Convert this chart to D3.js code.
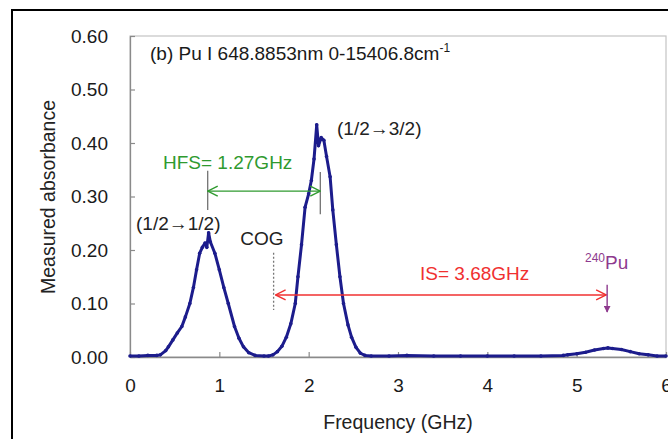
<!DOCTYPE html>
<html>
<head>
<meta charset="utf-8">
<script src="https://cdn.jsdelivr.net/npm/d3@7"></script>
<style>
  body { margin: 0; background: #fff; }
  svg text { font-family: "Liberation Sans", Arial, sans-serif; }
</style>
</head>
<body>
<div id="chart"></div>
<script>
// Readings taken off the measured spectrum (GHz, absorbance)
var freq = [0.00, 0.10, 0.20, 0.30, 0.34, 0.40, 0.43, 0.48, 0.53, 0.58,
    0.62, 0.67, 0.71, 0.745, 0.78, 0.81, 0.84, 0.86, 0.88, 0.90,
    0.95, 1.00, 1.05, 1.10, 1.17, 1.22, 1.27, 1.33, 1.40, 1.50,
    1.55, 1.60, 1.65, 1.70, 1.75, 1.80, 1.85, 1.88, 1.92, 1.96,
    2.00, 2.03, 2.06, 2.09, 2.11, 2.14, 2.17, 2.20, 2.24, 2.27,
    2.31, 2.35, 2.39, 2.44, 2.48, 2.53, 2.58, 2.63, 2.70, 2.90,
    3.10, 3.40, 3.70, 4.00, 4.30, 4.60, 4.85, 4.90, 5.00, 5.10,
    5.20, 5.30, 5.35, 5.40, 5.50, 5.60, 5.70, 5.80, 5.90, 6.00];
var absorbance = [0.002, 0.002, 0.003, 0.003, 0.004, 0.012, 0.019, 0.032, 0.045, 0.057,
    0.075, 0.100, 0.130, 0.163, 0.194, 0.205, 0.213, 0.205, 0.232, 0.215,
    0.194, 0.163, 0.130, 0.100, 0.057, 0.035, 0.019, 0.008, 0.003, 0.002,
    0.002, 0.004, 0.010, 0.020, 0.037, 0.062, 0.100, 0.150, 0.210, 0.280,
    0.305, 0.330, 0.370, 0.434, 0.395, 0.410, 0.405, 0.375, 0.337, 0.275,
    0.210, 0.150, 0.100, 0.060, 0.037, 0.018, 0.007, 0.003, 0.002, 0.002,
    0.003, 0.002, 0.002, 0.002, 0.002, 0.002, 0.003, 0.004, 0.006, 0.009,
    0.013, 0.016, 0.017, 0.016, 0.014, 0.010, 0.006, 0.004, 0.002, 0.002];

var xTicks = [0, 1, 2, 3, 4, 5, 6];
var yTicks = [0.00, 0.10, 0.20, 0.30, 0.40, 0.50, 0.60];

// annotation values (in data units)
var peakLow = 0.87, peakHigh = 2.13, hfsLevel = 0.31;   // HFS= 1.27GHz
var cog = 1.63, peak240 = 5.33, isLevel = 0.116;        // IS= 3.68GHz

var W = 668, H = 439;
var margin = { top: 36, left: 130 };

var svg = d3.select("#chart").append("svg")
    .attr("width", W)
    .attr("height", H);

// outer frame (cropped on the right and bottom)
svg.append("path")
    .attr("d", "M12,445 L12,10 L675,10")
    .attr("fill", "none")
    .attr("stroke", "#000")
    .attr("stroke-width", 2);

var x = d3.scaleLinear().domain([0, 6]).range([130, 666]);
var y = d3.scaleLinear().domain([0, 0.6]).range([357, 36]);

// plot area border
svg.append("rect")
    .attr("x", x(0)).attr("y", y(0.6))
    .attr("width", x(6) - x(0)).attr("height", y(0) - y(0.6))
    .attr("fill", "none")
    .attr("stroke", "#c4c4c4")
    .attr("stroke-width", 1.2);

// axes
var xAxis = d3.axisBottom(x).tickValues(xTicks).tickSizeInner(-5).tickSizeOuter(0)
    .tickPadding(22).tickFormat(d3.format("d"));
var yAxis = d3.axisLeft(y).tickValues(yTicks).tickSizeInner(-5).tickSizeOuter(0)
    .tickPadding(22).tickFormat(d3.format(".2f"));

var gx = svg.append("g")
    .attr("transform", "translate(0," + y(0) + ")")
    .call(xAxis);
var gy = svg.append("g")
    .attr("transform", "translate(" + x(0) + ",0)")
    .call(yAxis);

[gx, gy].forEach(function (g) {
    g.select(".domain").attr("stroke", "#8a8a8a").attr("stroke-width", 1.3);
    g.selectAll(".tick line").attr("stroke", "#8a8a8a").attr("stroke-width", 1.2);
    g.selectAll(".tick text")
        .attr("font-size", 19)
        .attr("fill", "#1a1a1a")
        .attr("font-family", "Liberation Sans, Arial, sans-serif");
});

// axis titles
svg.append("text")
    .attr("x", (x(0) + x(6)) / 2)
    .attr("y", 429)
    .attr("text-anchor", "middle")
    .attr("font-size", 19.5)
    .attr("fill", "#222")
    .text("Frequency (GHz)");

svg.append("text")
    .attr("transform", "translate(55," + 197 + ") rotate(-90)")
    .attr("text-anchor", "middle")
    .attr("font-size", 19.5)
    .attr("fill", "#222")
    .text("Measured absorbance");

// markers
var defs = svg.append("defs");
function chevron(id, color) {
    defs.append("marker")
        .attr("id", id)
        .attr("viewBox", "0 0 12 12")
        .attr("refX", 11).attr("refY", 6)
        .attr("markerWidth", 12).attr("markerHeight", 12)
        .attr("markerUnits", "userSpaceOnUse")
        .attr("orient", "auto-start-reverse")
        .append("path")
        .attr("d", "M1,1 L11,6 L1,11")
        .attr("fill", "none")
        .attr("stroke", color)
        .attr("stroke-width", 1.4);
}
chevron("arrGreen", "#2f9a2f");
chevron("arrRed", "#f03030");
defs.append("marker")
    .attr("id", "arrPurple")
    .attr("viewBox", "0 0 10 10")
    .attr("refX", 9).attr("refY", 5)
    .attr("markerWidth", 7).attr("markerHeight", 7)
    .attr("markerUnits", "userSpaceOnUse")
    .attr("orient", "auto")
    .append("path")
    .attr("d", "M0,0 L10,5 L0,10 Z")
    .attr("fill", "#8e3a8e");

// spectrum
var pts = freq.map(function (f, i) { return { f: f, a: absorbance[i] }; });
var line = d3.line()
    .x(function (d) { return x(d.f); })
    .y(function (d) { return y(d.a); })
    .curve(d3.curveLinear);

svg.append("path")
    .datum(pts)
    .attr("d", line)
    .attr("fill", "none")
    .attr("stroke", "#1c1c8c")
    .attr("stroke-width", 3)
    .attr("stroke-linejoin", "round");

svg.selectAll("circle.pt")
    .data(pts)
    .enter().append("circle")
    .attr("class", "pt")
    .attr("cx", function (d) { return x(d.f); })
    .attr("cy", function (d) { return y(d.a); })
    .attr("r", 1.8)
    .attr("fill", "#1c1c8c");

// HFS markers
svg.append("line")
    .attr("x1", x(peakLow)).attr("x2", x(peakLow))
    .attr("y1", y(0.348)).attr("y2", y(0.275))
    .attr("stroke", "#666").attr("stroke-width", 1.2);
svg.append("line")
    .attr("x1", x(peakHigh)).attr("x2", x(peakHigh))
    .attr("y1", y(0.346)).attr("y2", y(0.267))
    .attr("stroke", "#666").attr("stroke-width", 1.2);
svg.append("line")
    .attr("x1", x(peakLow)).attr("x2", x(peakHigh))
    .attr("y1", y(hfsLevel)).attr("y2", y(hfsLevel))
    .attr("stroke", "#2f9a2f").attr("stroke-width", 1.4)
    .attr("marker-start", "url(#arrGreen)")
    .attr("marker-end", "url(#arrGreen)");
svg.append("text")
    .attr("x", 163).attr("y", 169)
    .attr("font-size", 19)
    .attr("fill", "#2f9a2f")
    .text("HFS= 1.27GHz");

// COG + IS
svg.append("line")
    .attr("x1", x(cog) - 2).attr("x2", x(cog) - 2)
    .attr("y1", y(0.195)).attr("y2", y(0.088))
    .attr("stroke", "#777").attr("stroke-width", 1.3)
    .attr("stroke-dasharray", "2,2");
svg.append("text")
    .attr("x", 262).attr("y", 245)
    .attr("text-anchor", "middle")
    .attr("font-size", 19)
    .attr("fill", "#222")
    .text("COG");
svg.append("line")
    .attr("x1", x(cog)).attr("x2", x(peak240))
    .attr("y1", y(isLevel)).attr("y2", y(isLevel))
    .attr("stroke", "#f03030").attr("stroke-width", 1.4)
    .attr("marker-start", "url(#arrRed)")
    .attr("marker-end", "url(#arrRed)");
svg.append("text")
    .attr("x", 420).attr("y", 280)
    .attr("font-size", 19)
    .attr("fill", "#f03030")
    .text("IS= 3.68GHz");

// 240Pu
svg.append("line")
    .attr("x1", x(peak240) + 1).attr("x2", x(peak240) + 1)
    .attr("y1", y(0.135)).attr("y2", y(0.084))
    .attr("stroke", "#8e3a8e").attr("stroke-width", 1.4)
    .attr("marker-end", "url(#arrPurple)");
var pu = svg.append("text")
    .attr("x", 585).attr("y", 269)
    .attr("font-size", 19)
    .attr("fill", "#8e3a8e");
pu.append("tspan").attr("font-size", 12).attr("dy", -7).text("240");
pu.append("tspan").attr("dy", 7).text("Pu");

// transition labels
svg.append("text")
    .attr("x", 136).attr("y", 230)
    .attr("font-size", 19)
    .attr("fill", "#222")
    .text("(1/2\u21921/2)");
svg.append("text")
    .attr("x", 337).attr("y", 135)
    .attr("font-size", 19)
    .attr("fill", "#222")
    .text("(1/2\u21923/2)");

// panel title
var title = svg.append("text")
    .attr("x", 150).attr("y", 60)
    .attr("font-size", 19)
    .attr("fill", "#1a1a1a");
title.append("tspan").text("(b) Pu I 648.8853nm 0-15406.8cm");
title.append("tspan").attr("font-size", 12).attr("dy", -8).text("-1");
</script>
</body>
</html>
